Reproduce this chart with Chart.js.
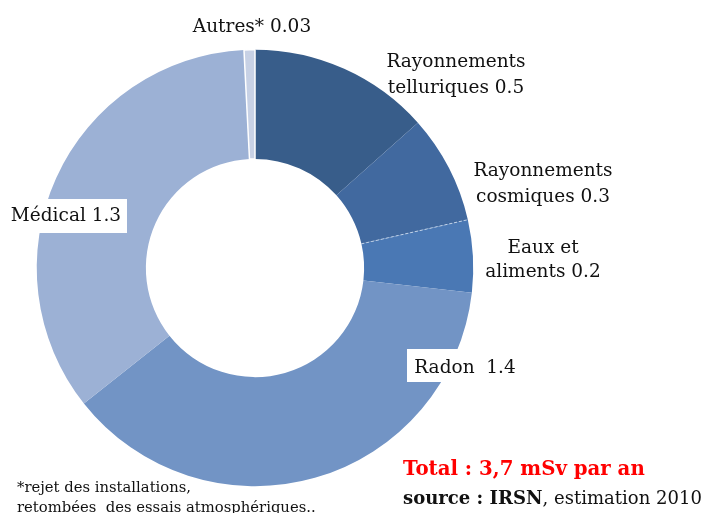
<!DOCTYPE html>
<html>
<head>
<meta charset="utf-8">
<script src="https://cdn.jsdelivr.net/npm/chart.js@4.4.1/dist/chart.umd.min.js"></script>
<style>
html,body{margin:0;padding:0;background:#fff;}
#wrap{position:relative;width:702px;height:513px;}
</style>
</head>
<body>
<div id="wrap"><canvas id="c" width="702" height="513"></canvas></div>
<script>
// ---- data ----
const categories = ['Rayonnements telluriques', 'Rayonnements cosmiques', 'Eaux et aliments', 'Radon', 'Médical', 'Autres*'];
const values = [0.5, 0.3, 0.2, 1.4, 1.3, 0.03];
const labelLines = [
  ['Rayonnements', 'telluriques 0.5'],
  ['Rayonnements', 'cosmiques 0.3'],
  ['Eaux et', 'aliments 0.2'],
  ['Radon  1.4'],
  ['Médical 1.3'],
  ['Autres* 0.03']
];
const colors = ['#385d8a', '#41699f', '#4a78b4', '#7294c5', '#9cb1d5', '#c7d1e5'];
const totalText = 'Total : 3,7 mSv par an';
const sourceBold = 'source : IRSN';
const sourceRest = ', estimation 2010';
const footnote = ['*rejet des installations,', 'retombées  des essais atmosphériques..'];

// ---- label placement (layout only) ----
const labelPos = [
  {x: 456, y: 62, lh: 26, box: false},
  {x: 543, y: 171, lh: 26, box: false},
  {x: 543, y: 248, lh: 24, box: false},
  {x: 465, y: 368, lh: 24, box: {x: 407, y: 349, w: 113, h: 33}},
  {x: 66, y: 216, lh: 24, box: {x: 8, y: 199, w: 119, h: 34}},
  {x: 252, y: 27, lh: 24, box: false}
];
const FONT = '"DejaVu Serif", "Liberation Serif", serif';

function drawText(ctx, t, x, y, font, sx, align, heavy) {
  ctx.save();
  ctx.font = font;
  ctx.textAlign = align;
  ctx.textBaseline = 'middle';
  ctx.translate(x, y);
  ctx.scale(sx, 1);
  ctx.fillText(t, 0, 0);
  if (heavy) {
    ctx.lineWidth = heavy;
    ctx.strokeStyle = ctx.fillStyle;
    ctx.strokeText(t, 0, 0);
  }
  const w = ctx.measureText(t).width * sx;
  ctx.restore();
  return w;
}

const textPlugin = {
  id: 'textPlugin',
  afterDraw(chart) {
    const ctx = chart.ctx;
    const meta = chart.getDatasetMeta(0);
    // dashed separator between cosmiques and eaux
    const a = meta.data[2];
    if (a) {
      const ang = a.startAngle;
      ctx.save();
      ctx.strokeStyle = 'rgba(200,215,235,0.9)';
      ctx.lineWidth = 1;
      ctx.setLineDash([3, 2]);
      ctx.beginPath();
      ctx.moveTo(a.x + Math.cos(ang) * a.innerRadius, a.y + Math.sin(ang) * a.innerRadius);
      ctx.lineTo(a.x + Math.cos(ang) * a.outerRadius, a.y + Math.sin(ang) * a.outerRadius);
      ctx.stroke();
      ctx.restore();
    }
    ctx.save();
    labelLines.forEach((lines, i) => {
      const p = labelPos[i];
      if (p.box) {
        ctx.fillStyle = '#ffffff';
        ctx.fillRect(p.box.x, p.box.y, p.box.w, p.box.h);
      }
      ctx.fillStyle = '#111111';
      lines.forEach((t, j) => drawText(ctx, t, p.x, p.y + j * p.lh, '18.5px ' + FONT, 1.0, 'center', 0));
    });
    // total
    ctx.fillStyle = '#ff0000';
    drawText(ctx, totalText, 403, 470, 'bold 21px ' + FONT, 0.94, 'left', 0);
    // source
    ctx.fillStyle = '#111111';
    const w = drawText(ctx, sourceBold, 403, 499, 'bold 19px ' + FONT, 0.95, 'left', 0);
    drawText(ctx, sourceRest, 403 + w, 499, '19px ' + FONT, 0.95, 'left', 0);
    // footnote
    drawText(ctx, footnote[0], 17, 488, '14.8px ' + FONT, 1.0, 'left', 0);
    drawText(ctx, footnote[1], 17, 508, '14.8px ' + FONT, 1.0, 'left', 0);
    ctx.restore();
  }
};

new Chart(document.getElementById('c'), {
  type: 'doughnut',
  data: {
    labels: categories,
    datasets: [{
      data: values,
      backgroundColor: colors,
      borderColor: '#ffffff',
      borderWidth: [0, 0, 0, 0, 0, 1.5]
    }]
  },
  options: {
    responsive: false,
    devicePixelRatio: 1,
    animation: false,
    cutout: '50%',
    rotation: 0,
    layout: {padding: {left: 36, right: 228, top: 48, bottom: 25}},
    plugins: {legend: {display: false}, tooltip: {enabled: false}}
  },
  plugins: [textPlugin]
});
</script>
</body>
</html>
